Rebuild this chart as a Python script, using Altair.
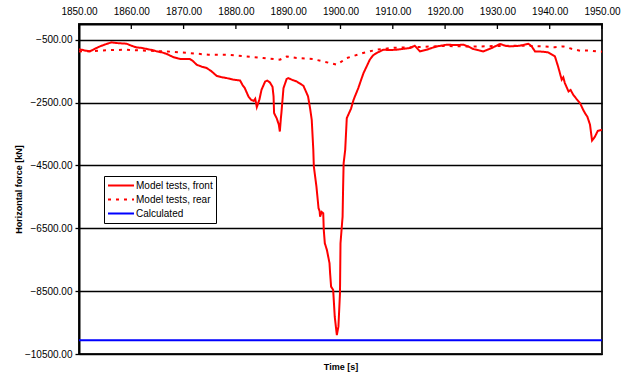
import altair as alt
import pandas as pd

series_names = ["Model tests, front", "Model tests, rear", "Calculated"]

front_t = [1850.0, 1851.0, 1852.1, 1853.0, 1854.0, 1855.0, 1856.2, 1857.5, 1859.1, 1860.0,
           1861.0, 1862.0, 1863.0, 1864.0, 1864.9, 1866.0, 1866.8, 1868.0, 1869.0, 1869.6,
           1871.2, 1871.8, 1872.5, 1873.5, 1874.4, 1875.3, 1876.3, 1877.2, 1878.2, 1879.5,
           1880.8, 1881.3, 1881.7, 1882.4, 1882.9, 1883.4, 1883.7, 1884.0, 1884.5, 1884.9,
           1885.6, 1886.0, 1886.5, 1887.0, 1887.2, 1887.3, 1887.8, 1888.2, 1888.4, 1888.6,
           1888.7, 1889.1, 1889.7, 1890.0, 1890.8, 1891.6, 1892.3, 1892.9, 1893.4, 1893.8,
           1894.2, 1894.5, 1894.8, 1894.9, 1895.4, 1895.8, 1896.0, 1896.1, 1896.4, 1896.7,
           1896.8, 1897.0, 1897.4, 1897.9, 1898.0, 1898.2, 1898.6, 1898.9, 1899.3, 1899.6,
           1899.9, 1900.0, 1900.4, 1900.5, 1900.6, 1900.9, 1901.2, 1902.0, 1902.5, 1903.4,
           1904.0, 1904.4, 1905.0, 1905.6, 1906.2, 1906.9, 1908.2, 1909.5, 1910.7, 1912.0,
           1913.3, 1914.2, 1915.2, 1916.5, 1917.5, 1918.4, 1920.3, 1922.0, 1923.5, 1924.5,
           1925.4, 1926.5, 1927.3, 1928.9, 1930.5, 1931.5, 1932.4, 1934.3, 1935.9, 1936.5,
           1937.2, 1938.5, 1939.7, 1941.0, 1941.6, 1942.3, 1942.6, 1942.9, 1943.6, 1944.0,
           1944.5, 1945.2, 1945.8, 1946.4, 1946.8, 1947.2, 1947.7, 1948.1, 1948.6, 1949.2,
           1950.0]
front_f = [-800, -840, -870, -790, -713, -650, -585, -610, -627, -690,
           -745, -760, -797, -830, -872, -910, -956, -1051, -1100, -1115,
           -1115, -1180, -1296, -1360, -1401, -1500, -1647, -1690, -1720, -1770,
           -1796, -1950, -2040, -2305, -2411, -2450, -2380, -2645, -2400, -2093,
           -1827, -1800, -1859, -2000, -2305, -2835, -3000, -3200, -3420, -3000,
           -2835, -2040, -1751, -1720, -1780, -1827, -1900, -1965, -2150, -2305,
           -2700, -3048, -4003, -4535, -5172, -5860, -5950, -6128, -5980, -6020,
           -6552, -6975, -7189, -7612, -7900, -8357, -8462, -9313, -9896, -9630,
           -8568, -6975, -6128, -5200, -4427, -4003, -2995, -2700, -2411, -2040,
           -1750, -1561, -1350, -1137, -1000, -924, -818, -830, -818, -790,
           -765, -691, -872, -818, -760, -713, -659, -670, -659, -720,
           -797, -840, -872, -765, -637, -690, -713, -691, -627, -700,
           -872, -880, -903, -1031, -1350, -1774, -1700, -1880, -2147, -2100,
           -2252, -2400, -2517, -2730, -2850, -2950, -3200, -3707, -3600, -3400,
           -3366]

rear_t = [1850.0, 1853.0, 1856.0, 1859.0, 1863.0, 1866.8, 1871.2, 1874.7, 1878.2, 1882.1,
          1885.2, 1888.4, 1889.7, 1891.6, 1894.7, 1898.0, 1899.3, 1901.2, 1904.3, 1906.9,
          1910.0, 1915.0, 1920.0, 1925.0, 1930.0, 1935.0, 1938.8, 1941.0, 1942.6, 1944.2,
          1945.8, 1947.5, 1949.0, 1950.0]
rear_f = [-872, -860, -830, -818, -850, -872, -924, -978, -978, -1032,
          -1083, -1137, -1032, -1083, -1115, -1242, -1296, -1083, -924, -818,
          -760, -730, -700, -720, -700, -690, -713, -740, -713, -790,
          -850, -840, -872, -880]

calc_t = [1850.0, 1950.0]
calc_f = [-10060, -10060]

x_ticks = [1850, 1860, 1870, 1880, 1890, 1900, 1910, 1920, 1930, 1940, 1950]
y_ticks = [-10500, -8500, -6500, -4500, -2500, -500]

rows = []
for name, ts, fs in zip(series_names, [front_t, rear_t, calc_t], [front_f, rear_f, calc_f]):
    for t, f in zip(ts, fs):
        rows.append({"time": t, "force": f, "series": name})
df = pd.DataFrame(rows)
tick_df = pd.DataFrame({"tick": x_ticks})

W, H = 523, 330
FONT = "Liberation Sans"

legend = alt.Legend(
    orient="none", legendX=25, legendY=152, title=None,
    symbolType="stroke", symbolSize=676, labelFontSize=10, labelFont=FONT,
    labelColor="black", labelLimit=300, labelOffset=1, rowPadding=1,
    clipHeight=13, padding=3, strokeColor="black", fillColor="white",
)

xscale = alt.Scale(domain=[1850, 1950], nice=False, zero=False)

lines = alt.Chart(df).mark_line(clip=True).encode(
    x=alt.X("time:Q", scale=xscale,
            axis=alt.Axis(orient="top", values=x_ticks, format=".2f", grid=False,
                          tickSize=0, labelPadding=8, labelFontSize=10, labelFont=FONT,
                          labelColor="black", labelOverlap=False, labelBound=False,
                          labelFlush=False, domainColor="black", domainWidth=2,
                          title="Time [s]", titleX=W / 2, titleY=H + 12, titleFontSize=9,
                          titleFont=FONT, titleFontWeight="bold", titleBaseline="middle",
                          titleAlign="center", titleAngle=0, titleColor="black")),
    y=alt.Y("force:Q", scale=alt.Scale(domain=[-10500, 0], nice=False, zero=False),
            axis=alt.Axis(values=y_ticks, format=".2f", grid=True, gridColor="black",
                          gridWidth=1.3, gridOpacity=1, tickSize=4, tickColor="black",
                          tickWidth=1.3, labelPadding=3, labelFontSize=10, labelFont=FONT,
                          labelColor="black", labelOverlap=False,
                          domainColor="black", domainWidth=2,
                          title="Horizontal force [kN]", titleX=-61, titleY=H / 2,
                          titleAngle=-90, titleFontSize=9, titleFont=FONT,
                          titleFontWeight="bold", titleBaseline="middle",
                          titleAlign="center", titleColor="black")),
    color=alt.Color("series:N", scale=alt.Scale(domain=series_names,
                                                range=["#ff0000", "#ff0000", "#0000ff"]),
                    legend=legend),
    strokeDash=alt.StrokeDash("series:N", scale=alt.Scale(domain=series_names,
                                                          range=[[1, 0], [3, 5], [1, 0]]),
                              legend=legend),
    strokeWidth=alt.StrokeWidth("series:N", scale=alt.Scale(domain=series_names,
                                                            range=[2, 2, 3]),
                                legend=legend),
)

ticks = alt.Chart(tick_df).mark_rule(color="black", strokeWidth=1.3).encode(
    x=alt.X("tick:Q", scale=xscale),
    y=alt.value(0),
    y2=alt.value(5),
)

chart = alt.layer(lines, ticks).properties(
    width=W, height=H,
    autosize=alt.AutoSizeParams(type="none"),
    padding={"left": 79, "top": 24, "right": 32, "bottom": 20},
    background="white",
).configure_view(stroke="#222", strokeWidth=2)

chart.save("out.html", embed_options={"renderer": "svg", "actions": False})
